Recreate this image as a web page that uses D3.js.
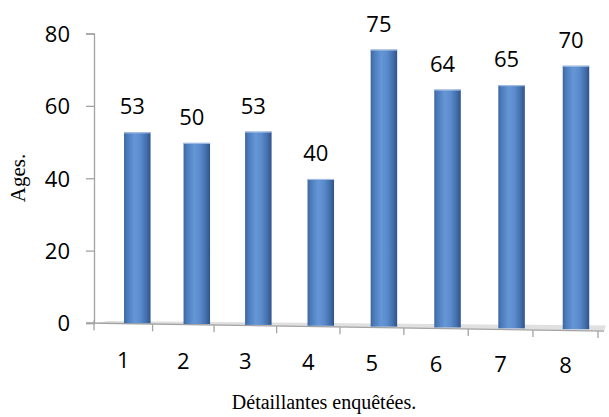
<!DOCTYPE html>
<html>
<head>
<meta charset="utf-8">
<script src="https://cdn.jsdelivr.net/npm/d3@7"></script>
<style>
  html, body { margin: 0; padding: 0; background: #fff; }
  svg { display: block; }
</style>
</head>
<body>
<svg id="chart" width="609" height="417"></svg>
<script>
// Ages of the surveyed retailers
const categories = ["1", "2", "3", "4", "5", "6", "7", "8"];
const ages = [53, 50, 53, 40, 75, 64, 65, 70];
const yTicks = [0, 20, 40, 60, 80];
const yTitle = "Ages.";
const xTitle = "Détaillantes enquêtées.";

const svg = d3.select("#chart");
const n = categories.length;
const sans = "'Open Sans', sans-serif";
const serif = "'Liberation Serif', 'Times New Roman', serif";

// Value axis on the back wall
const y = d3.scaleLinear().domain([0, 80]).range([323, 33.5]);

// Category slot edges, slightly widening to the right (perspective)
const slot = d3.scalePow().exponent(1.035).domain([0, n]).range([94, 598]);
// Bars sit in front of the wall: offset, floor line and magnification by position
const shift = d3.scaleLinear().domain([0, n - 1]).range([14, 10.5]);
const base = d3.scaleLinear().domain([0, n - 1]).range([323.2, 329.2]);
const mag = d3.scaleLinear().domain([0, n - 1]).range([0.995, 1.04]);
const barW = 26.5;

// Floor line across the bottom
const x0 = slot(0), x1 = slot(n);
const floorY = d3.scaleLinear().domain([x0, x1]).range([323.5, 331]);

// Gradient giving the columns a rounded look
const defs = svg.append("defs");
const grad = defs.append("linearGradient").attr("id", "barGrad")
  .attr("x1", "0%").attr("x2", "100%").attr("y1", "0%").attr("y2", "0%");
[[0, "#3d659f"], [0.12, "#4c7bbb"], [0.4, "#6596d6"], [0.62, "#5b8bcc"],
 [0.85, "#426eab"], [1, "#2f5388"]].forEach(([o, c]) =>
  grad.append("stop").attr("offset", o).attr("stop-color", c));

// Floor plane
svg.append("path")
  .attr("d", d3.line()([[x0, floorY(x0)], [x0 + 14, 321], [x1 + 8, 325.5], [x1 + 6, floorY(x1 + 6)]]) + "Z")
  .attr("fill", "#e0e0e0");
svg.append("line")
  .attr("x1", x0 - 8).attr("y1", y(0))
  .attr("x2", x1 + 6).attr("y2", floorY(x1 + 6))
  .attr("stroke", "#a3a3a3").attr("stroke-width", 1.3);

// Category ticks hanging under the floor
svg.append("g").selectAll("line")
  .data(d3.range(n + 1))
  .join("line")
  .attr("x1", i => slot(i)).attr("x2", i => slot(i))
  .attr("y1", i => floorY(slot(i)) - (i === 0 ? 3 : 0))
  .attr("y2", i => floorY(slot(i)) + 7)
  .attr("stroke", "#a3a3a3").attr("stroke-width", 1.3);

// Value axis
const yAxis = d3.axisLeft(y).tickValues(yTicks).tickSize(8).tickPadding(16);
const gy = svg.append("g").attr("transform", `translate(${x0},0)`).call(yAxis);
gy.select(".domain").attr("stroke", "#a3a3a3").attr("stroke-width", 1.3);
gy.selectAll(".tick line").attr("stroke", "#a3a3a3").attr("stroke-width", 1.3);
gy.selectAll(".tick text")
  .attr("font-family", sans).attr("font-size", 22)
  .attr("fill", "#000").attr("dy", "0.36em");

// Category labels
svg.append("g").selectAll("text")
  .data(categories)
  .join("text")
  .attr("x", (d, i) => (slot(i) + slot(i + 1)) / 2)
  .attr("y", (d, i) => 368 + 5 * i / (n - 1))
  .attr("text-anchor", "middle")
  .attr("font-family", sans).attr("font-size", 22)
  .text(d => d);

// Columns
const bars = ages.map((v, i) => {
  const left = (slot(i) + slot(i + 1)) / 2 + shift(i) - barW / 2;
  const h = (y(0) - y(v)) * mag(i);
  return { v, i, left, bottom: base(i), top: base(i) - h };
});

svg.append("g").selectAll("rect")
  .data(bars)
  .join("rect")
  .attr("x", d => d.left).attr("y", d => d.top)
  .attr("width", barW).attr("height", d => d.bottom - d.top)
  .attr("fill", "url(#barGrad)");

// Light rim on the column tops
svg.append("g").selectAll("line")
  .data(bars)
  .join("line")
  .attr("x1", d => d.left).attr("x2", d => d.left + barW)
  .attr("y1", d => d.top + 0.5).attr("y2", d => d.top + 0.5)
  .attr("stroke", "#a9c1e6").attr("stroke-width", 1);

// Value labels
svg.append("g").selectAll("text")
  .data(bars)
  .join("text")
  .attr("x", d => d.left + barW / 2 - 5)
  .attr("y", d => d.top - 18)
  .attr("text-anchor", "middle")
  .attr("font-family", sans).attr("font-size", 22)
  .text(d => d.v);

// Axis titles
svg.append("text")
  .attr("transform", "translate(25,178) rotate(-90)")
  .attr("text-anchor", "middle")
  .attr("font-family", serif).attr("font-size", 21)
  .text(yTitle);

svg.append("text")
  .attr("x", 324).attr("y", 409)
  .attr("text-anchor", "middle")
  .attr("font-family", serif).attr("font-size", 20)
  .text(xTitle);
</script>
</body>
</html>
